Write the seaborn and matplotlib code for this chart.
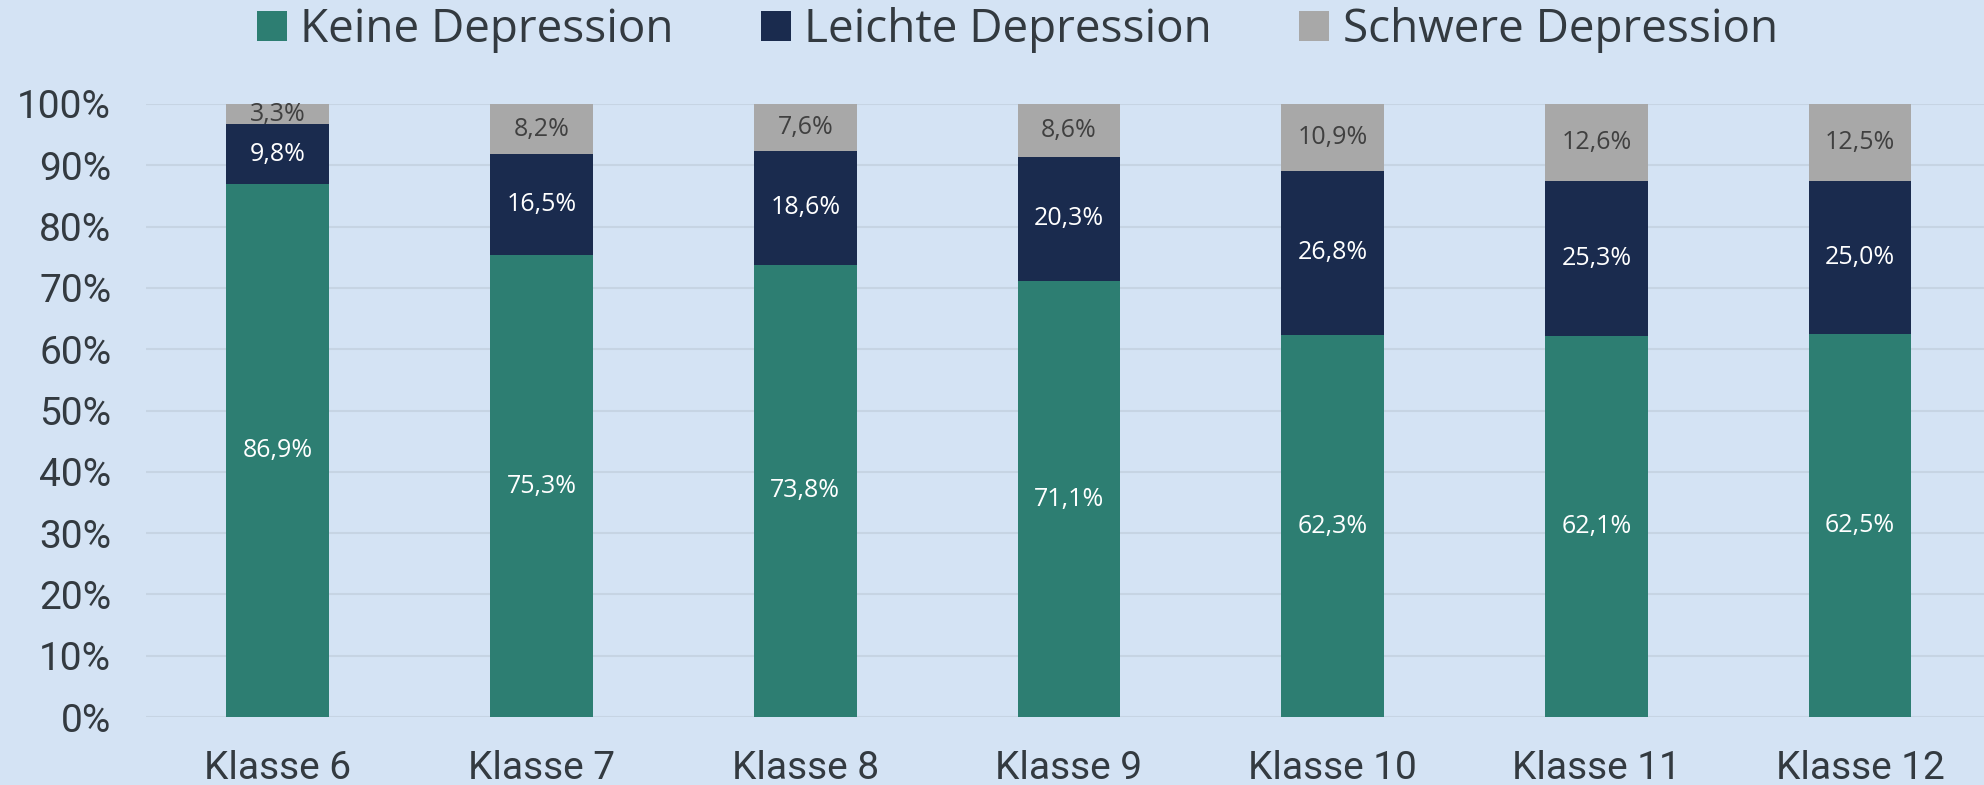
import matplotlib
matplotlib.use("Agg")
import matplotlib.pyplot as plt
import seaborn as sns
import numpy as np
from matplotlib.ticker import FuncFormatter
from matplotlib.patches import Patch

categories = ["Klasse 6", "Klasse 7", "Klasse 8", "Klasse 9", "Klasse 10", "Klasse 11", "Klasse 12"]
series_names = ["Keine Depression", "Leichte Depression", "Schwere Depression"]
keine = [86.9, 75.3, 73.8, 71.1, 62.3, 62.1, 62.5]
leichte = [9.8, 16.5, 18.6, 20.3, 26.8, 25.3, 25.0]
schwere = [3.3, 8.2, 7.6, 8.6, 10.9, 12.6, 12.5]

colors = ["#2D7E72", "#1A2B4E", "#A8A8A8"]
label_colors = ["#FFFFFF", "#FFFFFF", "#404040"]
bg = "#D4E3F4"

sns.set_theme(style="white")
plt.rcParams["font.family"] = ["Roboto", "DejaVu Sans"]

fig = plt.figure(figsize=(19.84, 7.85), dpi=100, facecolor=bg)
ax = fig.add_axes([146 / 1984, 1 - 717 / 785, 1 - 146 / 1984, (717 - 104) / 785])
ax.set_facecolor(bg)

bottom = np.zeros(len(categories))
for vals, col, lcol in zip([keine, leichte, schwere], colors, label_colors):
    sns.barplot(x=categories, y=vals, bottom=bottom, color=col, width=0.39,
                ax=ax, saturation=1, zorder=3, linewidth=0, edgecolor="none")
    for i, v in enumerate(vals):
        ax.text(i, bottom[i] + v / 2, f"{v:.1f}".replace(".", ",") + "%",
                ha="center", va="center", color=lcol, fontsize=18,
                family=["Open Sans", "DejaVu Sans"], zorder=4)
    bottom = bottom + np.array(vals)

ax.set_ylim(0, 100)
ax.set_xlim(-0.5, 6.47)
ax.set_yticks(np.arange(0, 101, 10))
ax.yaxis.set_major_formatter(FuncFormatter(lambda v, p: f"{int(v)}%"))
ax.grid(axis="y", color="#C6D4E3", linewidth=1.5, zorder=0)
ax.grid(axis="x", visible=False)
for s in ax.spines.values():
    s.set_visible(False)
ax.tick_params(axis="y", labelsize=28, colors="#333A40", pad=25, length=0)
ax.tick_params(axis="x", labelsize=28, colors="#333A40", pad=24, length=0)
ax.set_xlabel("")
ax.set_ylabel("")

handles = [Patch(facecolor=c, edgecolor="none") for c in colors]
leg = fig.legend(handles, series_names, loc="center", bbox_to_anchor=(0.5128, 1 - 30 / 785),
                 ncol=3, frameon=False, handlelength=0.65, handleheight=0.65,
                 handletextpad=0.3, columnspacing=1.9,
                 prop={"family": ["Open Sans", "DejaVu Sans"], "size": 33})
for t in leg.get_texts():
    t.set_color("#333A40")

fig.savefig("out.png", dpi=100, facecolor=bg)
